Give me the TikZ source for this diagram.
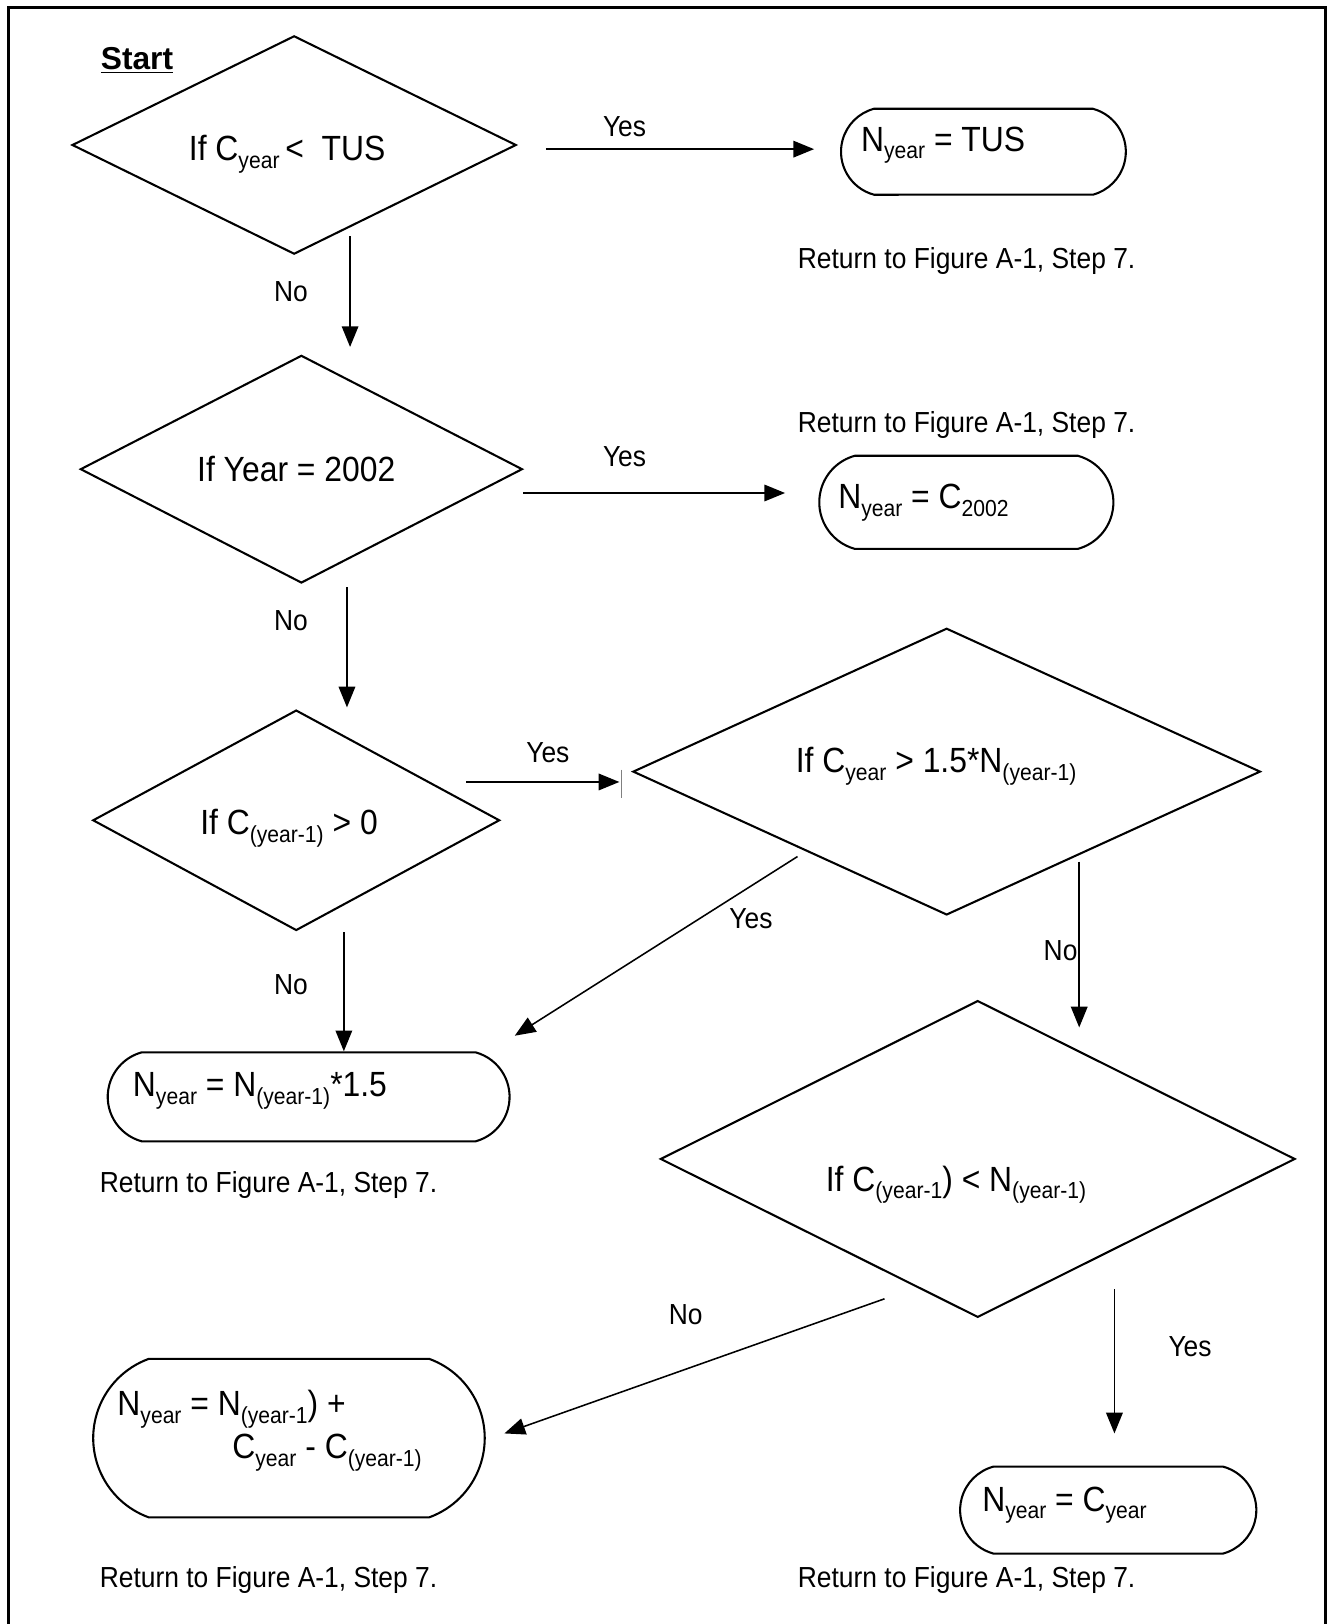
\documentclass[tikz,border=0pt]{standalone}
\usepackage{fontspec}
\setmainfont[FakeStretch=0.91]{Liberation Sans}
\newfontfamily\startfont{Liberation Sans}
\usetikzlibrary{arrows.meta,shapes.geometric,shapes.misc}
\newcommand{\subfont}{\fontsize{9.5}{10}\selectfont}
\newcommand{\sbs}[1]{\raisebox{-0.22em}{\subfont #1}}
\tikzset{
  txt/.style={font=\fontsize{14}{16}\selectfont, inner sep=0pt, anchor=base west},
  bigtxt/.style={font=\fontsize{16.9}{19}\selectfont\renewcommand{\subfont}{\fontsize{11.2}{12}\selectfont}, inner sep=0pt, anchor=base west},
  dia/.style={draw, line width=1pt, shape=diamond, inner sep=0pt, outer sep=0pt},
  term/.style={draw, line width=1pt, rounded rectangle, rounded rectangle arc length=150, inner sep=0pt, outer sep=0pt},
  conn/.style={line width=0.75pt, -{Triangle[length=10pt,width=8pt]}},
}
\begin{document}
\begin{tikzpicture}[x=0.5pt,y=-0.5pt]
\useasboundingbox (0,0) rectangle (1287,1568);
% frame
\draw[line width=1.5pt] (8,1570) -- (8,7) -- (1280,7) -- (1280,1570);

% start
\node[anchor=base west, inner sep=0pt, font=\startfont\fontsize{15.3}{17}\selectfont\bfseries] (start) at (97,67) {\underline{Start}};

% diamonds
\node[dia, minimum width=214pt, minimum height=105pt] (d1) at (284,140) {};
\node[dia, minimum width=213pt, minimum height=109.5pt] (d2) at (291,453) {};
\node[dia, minimum width=196pt, minimum height=106pt] (d3) at (286,792) {};
\node[dia, minimum width=302.5pt, minimum height=138pt] (d4) at (914,745) {};
\node[dia, minimum width=306pt, minimum height=152.5pt] (d5) at (944,1119) {};

\node[bigtxt] (d1t) at (182,155) {If C\sbs{year}\,<\ \ TUS};
\node[bigtxt] (d2t) at (190,465) {If Year = 2002};
\node[bigtxt] (d3t) at (193,806) {If C\sbs{(year-1)} > 0};
\node[bigtxt] (d4t) at (768,746) {If C\sbs{year} > 1.5*N\sbs{(year-1)}};
\node[bigtxt] (d5t) at (797,1150) {If C\sbs{(year-1}) < N\sbs{(year-1)}};

% terminals
\node[term, minimum width=137.5pt, minimum height=41.5pt] (t1) at (949.5,146.5) {};
\node[term, minimum width=142pt, minimum height=45pt] (t2) at (933,485) {};
\node[term, minimum width=194pt, minimum height=43pt] (t3) at (298,1059) {};
\node[term, minimum width=189pt, minimum height=76.5pt, rounded rectangle arc length=140] (t4) at (279,1388.5) {};
\node[term, minimum width=143pt, minimum height=42pt] (t5) at (1070,1458) {};

\node[bigtxt] (t1t) at (831,146) {N\sbs{year} = TUS};
\node[bigtxt] (t2t) at (809,491) {N\sbs{year} = C\sbs{2002}};
\node[bigtxt] (t3t) at (128,1059) {N\sbs{year} = N\sbs{(year-1)}*1.5};
\node[bigtxt] (t4a) at (113,1367) {N\sbs{year} = N\sbs{(year-1}) +};
\node[bigtxt] (t4b) at (224,1408) {C\sbs{year} - C\sbs{(year-1)}};
\node[bigtxt] (t5t) at (948,1459) {N\sbs{year} = C\sbs{year}};

% return texts
\node[txt] (r1) at (770,259) {Return to Figure A-1, Step 7.};
\node[txt] (r2) at (770,418) {Return to Figure A-1, Step 7.};
\node[txt] (r3) at (96,1151) {Return to Figure A-1, Step 7.};
\node[txt] (r4) at (96,1533) {Return to Figure A-1, Step 7.};
\node[txt] (r5) at (770,1533) {Return to Figure A-1, Step 7.};

% connector end points
\coordinate (a1s) at (527,144);  \coordinate (a1e) at (786,144);
\coordinate (a2s) at (338,228);  \coordinate (a2e) at (338,335);
\coordinate (a3s) at (505,476);  \coordinate (a3e) at (758,476);
\coordinate (a4s) at (335,567);  \coordinate (a4e) at (335,683);
\coordinate (a5s) at (450,755);  \coordinate (a5e) at (598,755);
\coordinate (a6s) at (770,827);  \coordinate (a6e) at (497,1000);
\coordinate (a7s) at (1042,832); \coordinate (a7e) at (1042,992);
\coordinate (a8s) at (332,900);  \coordinate (a8e) at (332,1015);
\coordinate (a9s) at (854,1254); \coordinate (a9e) at (487,1384);
\coordinate (a10s) at (1076,1245); \coordinate (a10e) at (1076,1384);
\coordinate (bart) at (600,743); \coordinate (barb) at (600,770);

\draw[conn] (a1s) -- (a1e);
\draw[conn] (a2s) -- (a2e);
\draw[conn] (a3s) -- (a3e);
\draw[conn] (a4s) -- (a4e);
\draw[conn] (a5s) -- (a5e);
\draw[line width=0.6pt, gray] (bart) -- (barb);
\draw[conn] (a6s) -- (a6e);
\draw[conn] (a7s) -- (a7e);
\draw[conn] (a8s) -- (a8e);
\draw[conn] (a9s) -- (a9e);
\draw[conn] (a10s) -- (a10e);

% connector labels
\node[txt, anchor=base] (l1) at (603,132) {Yes};
\node[txt, anchor=base] (l2) at (281,291) {No};
\node[txt, anchor=base] (l3) at (603,450) {Yes};
\node[txt, anchor=base] (l4) at (281,609) {No};
\node[txt, anchor=base] (l5) at (529,736) {Yes};
\node[txt, anchor=base] (l6) at (725,896) {Yes};
\node[txt, anchor=base] (l7) at (1024,927) {No};
\node[txt, anchor=base] (l8) at (281,960) {No};
\node[txt, anchor=base] (l9) at (662,1279) {No};
\node[txt, anchor=base] (l10) at (1149,1310) {Yes};
\end{tikzpicture}
\end{document}
